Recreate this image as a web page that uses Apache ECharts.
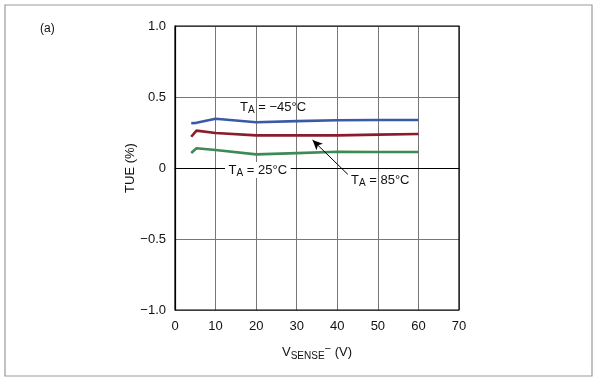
<!DOCTYPE html>
<html><head><meta charset="utf-8">
<script src="https://cdn.jsdelivr.net/npm/echarts@6/dist/echarts.min.js"></script>
<style>html,body{margin:0;padding:0;background:#fff}#c{width:603px;height:381px}</style>
</head><body><div id="c"></div>
<script>
const xTicks = [0,10,20,30,40,50,60,70];
const yTicks = [-1.0,-0.5,0,0.5,1.0];
const vsense = [4, 5.3, 10, 20, 30, 40, 50, 60];
const tue_m45 = [0.315, 0.318, 0.347, 0.322, 0.330, 0.336, 0.338, 0.338];
const tue_85  = [0.220, 0.263, 0.246, 0.230, 0.230, 0.230, 0.235, 0.239];
const tue_25  = [0.106, 0.139, 0.127, 0.096, 0.105, 0.114, 0.113, 0.113];
const arrowFrom = [42.6, -0.045];
const arrowTo = [33.9, 0.197];

const chart = echarts.init(document.getElementById('c'), null, {renderer:'canvas'});
const font = 'Liberation Sans, Arial, sans-serif';
function mk(name, ys, color){
  return {type:'line', name, data: vsense.map((v,i)=>[v, ys[i]]), showSymbol:false, symbol:'none',
    lineStyle:{color, width:2.6}, itemStyle:{color}, z:3, silent:true, animation:false};
}
const s85 = mk('85', tue_85, '#8a1c2c');
s85.markLine = {silent:true, symbol:['none','arrow'], symbolSize:[7,10], animation:false,
  lineStyle:{color:'#000', width:1, type:'solid'}, label:{show:false},
  data:[[{coord:arrowFrom},{coord:arrowTo}]]};
chart.setOption({
  animation:false,
  grid:{left:175, right:144, top:26, bottom:71, show:false},
  xAxis:{type:'value', min:0, max:70, interval:10,
    axisLine:{show:true, lineStyle:{color:'#000', width:1.2}}, axisTick:{show:false},
    splitLine:{show:true, lineStyle:{color:'#777', width:1}},
    axisLabel:{color:'#111', fontFamily:font, fontSize:13, margin:10},
    name:'V{sub|SENSE}{sup|\u2212} (V)', nameLocation:'middle', nameGap:33,
    nameTextStyle:{color:'#111', fontFamily:font, fontSize:13,
      rich:{sub:{fontFamily:font, fontSize:10, color:'#111', padding:[7,0,0,0]},
            sup:{fontFamily:font, fontSize:11, color:'#111', padding:[0,0,8,0]}}}},
  yAxis:{type:'value', min:-1, max:1, interval:0.5,
    axisLine:{show:true, lineStyle:{color:'#000', width:1.2}}, axisTick:{show:false},
    splitLine:{show:true, lineStyle:{color:'#777', width:1}},
    axisLabel:{color:'#111', fontFamily:font, fontSize:13, margin:9,
      formatter:v=> v===0 ? '0' : (v<0 ? '\u2212'+Math.abs(v).toFixed(1) : v.toFixed(1))},
    name:'TUE (%)', nameLocation:'middle', nameGap:38, nameRotate:90,
    nameTextStyle:{color:'#111', fontFamily:font, fontSize:13}},
  series:[
    mk('-45', tue_m45, '#3a5aa8'),
    s85,
    mk('25', tue_25, '#3d8a55')
  ],
  graphic:[
    {type:'rect', shape:{x:5, y:5, width:587, height:371}, style:{fill:'none', stroke:'#999', lineWidth:1.2}, silent:true},
    {type:'rect', shape:{x:175, y:26, width:284, height:284}, style:{fill:'none', stroke:'#000', lineWidth:1.2}, silent:true, z:10},
    {type:'text', left:40, top:23, style:{text:'(a)', font:'12px '+font, fill:'#111'}},
    {type:'text', left:240, top:101, z:20, style:{text:'T{s|A} = \u221245\u00b0C', font:'13px '+font, fill:'#111',
      rich:{s:{fontSize:10, fontFamily:font, fill:'#111', padding:[6,0,0,0]}}}},
    {type:'text', left:225, top:162, z:20, style:{text:' T{s|A} = 25\u00b0C ', font:'13px '+font, fill:'#111', backgroundColor:'#fff',
      rich:{s:{fontSize:10, fontFamily:font, fill:'#111', padding:[6,0,0,0]}}}},
    {type:'text', left:351, top:174, z:20, style:{text:'T{s|A} = 85\u00b0C', font:'13px '+font, fill:'#111',
      rich:{s:{fontSize:10, fontFamily:font, fill:'#111', padding:[6,0,0,0]}}}}
  ]
});
</script></body></html>
